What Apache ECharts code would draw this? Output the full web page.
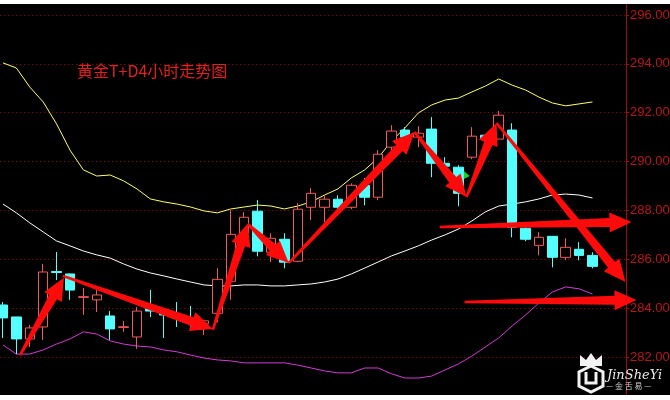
<!DOCTYPE html>
<html><head><meta charset="utf-8">
<script src="https://cdn.jsdelivr.net/npm/echarts@6/dist/echarts.min.js"></script>
<style>
html,body{margin:0;padding:0;background:#fff;width:670px;height:400px;overflow:hidden}
#chart{position:absolute;left:0;top:4px;width:670px;height:391px;background:#000}
</style>
</head><body><div id="chart"></div>
<script>
// ---- data ----
const categories = ['1','2','3','4','5','6','7','8','9','10','11','12','13','14','15','16','17','18','19','20',
  '21','22','23','24','25','26','27','28','29','30','31','32','33','34','35','36','37','38','39','40',
  '41','42','43','44','45','46','47'];
const opens  = [284.13,283.64,282.74,283.23,285.50,285.40,284.44,284.34,283.68,283.21,282.82,283.98,283.82,283.70,283.55,283.36,283.79,285.10,287.07,287.97,286.29,286.82,285.92,288.13,288.13,288.46,288.13,289.03,288.54,290.59,291.29,291.00,291.33,289.93,289.77,290.18,291.08,290.92,291.29,287.27,286.57,286.94,286.08,286.41,286.16];
const closes = [283.60,282.74,283.19,285.48,285.46,284.74,284.47,284.54,283.15,283.24,283.88,283.88,283.72,283.58,283.45,283.48,285.18,287.02,287.72,286.33,286.86,285.88,288.05,288.70,288.46,288.13,289.03,288.54,290.30,291.25,291.00,291.16,289.93,289.81,288.70,291.04,290.92,291.90,287.31,286.82,286.90,286.08,286.49,286.16,285.71];
const lows   = [282.78,282.12,282.41,282.70,285.15,284.34,283.72,283.84,282.70,283.03,282.33,283.64,282.78,283.23,283.19,282.90,283.42,284.34,286.90,286.12,285.88,285.63,285.88,287.60,287.52,288.00,288.05,288.21,288.42,290.39,290.88,290.59,289.36,289.55,288.17,290.10,290.92,290.92,286.90,286.74,286.16,285.67,285.96,285.96,285.63];
const highs  = [284.25,283.64,283.31,285.81,286.30,285.42,284.83,284.74,283.88,283.48,284.05,284.75,283.90,284.25,284.09,283.52,285.63,288.01,287.93,288.42,287.07,287.07,288.30,288.91,288.62,288.62,289.11,289.32,290.47,291.49,291.41,291.45,291.82,290.18,289.85,291.41,291.08,292.07,291.57,287.31,287.11,286.94,286.86,286.70,286.29];
const upperBand = [294.04,293.83,293.05,292.44,291.54,290.47,289.66,289.41,289.45,289.21,288.88,288.47,288.35,288.26,288.14,287.98,287.90,288.06,288.14,288.22,288.18,288.06,288.18,288.35,288.63,288.88,289.33,289.66,290.15,290.84,291.38,291.99,292.32,292.52,292.60,292.85,293.09,293.38,293.13,292.93,292.64,292.40,292.28,292.36,292.44];
const midBand   = [288.26,287.90,287.49,287.12,286.75,286.55,286.34,286.18,286.05,285.81,285.60,285.44,285.32,285.19,285.07,284.95,284.91,284.91,284.95,284.95,284.91,284.91,284.95,284.99,285.07,285.19,285.40,285.64,285.89,286.14,286.34,286.55,286.79,287.00,287.24,287.57,287.94,288.18,288.26,288.35,288.47,288.63,288.67,288.63,288.51];
const lowerBand = [282.49,282.12,282.12,282.29,282.53,282.74,283.03,282.94,282.66,282.53,282.45,282.41,282.29,282.21,282.08,281.96,281.88,281.84,281.76,281.76,281.76,281.76,281.67,281.55,281.43,281.35,281.35,281.55,281.55,281.31,281.14,281.14,281.22,281.47,281.72,282.04,282.41,282.78,283.27,283.72,284.21,284.66,284.87,284.79,284.58];
const yTickValues = [282,284,286,288,290,292,294,296];
const titleText = '黄金T+D4小时走势图';
// annotation arrows: [fromIndex, fromValue, toIndex, toValue]
const arrows = [
  [1.27,282.08, 4.55,285.24],
  [4.47,285.32, 15.66,283.15],
  [15.66,283.11, 18.27,287.45],
  [18.27,287.45, 21.33,285.85],
  [21.33,285.85, 30.72,291.21],
  [30.72,291.21, 34.60,288.55],
  [34.60,288.55, 36.84,291.58],
  [36.84,291.58, 46.46,285.07],
  [32.59,287.32, 46.91,287.53],
  [34.45,284.25, 47.28,284.33]
];
const greenMarker = [34.4, 289.45];

// ---- chart ----
const candleData = opens.map((o,i)=>[o, closes[i], lows[i], highs[i]]);
const chart = echarts.init(document.getElementById('chart'), null, {renderer:'canvas'});
const RED_AXIS = '#a80c0c';
chart.setOption({
  backgroundColor: '#000',
  animation: false,
  title: {
    text: titleText, left: 77, top: 59, padding: 0,
    textStyle: {color:'#e3201c', fontSize:16, fontWeight:'normal', fontFamily:'"Noto Sans CJK SC", sans-serif'}
  },
  grid: {left: -3.7, right: 44, top: -13.43, bottom: -10.86, containLabel:false, outerBoundsMode:'none'},
  xAxis: {
    type:'category', data: categories, boundaryGap:true,
    axisLine:{show:false}, axisTick:{show:false}, axisLabel:{show:false}, splitLine:{show:false}
  },
  yAxis: {
    type:'value', position:'right', min:280, max:297, interval:2, scale:true,
    axisLine:{show:true, lineStyle:{color:RED_AXIS, width:1}},
    axisTick:{show:true, length:3, lineStyle:{color:RED_AXIS}},
    axisLabel:{
      color:'#b8181a', fontSize:13, margin:4, fontFamily:'"Liberation Sans", Arial, sans-serif',
      showMinLabel:false, showMaxLabel:false,
      formatter: v => yTickValues.indexOf(v) >= 0 ? v.toFixed(2) : ''
    },
    splitLine:{show:true, lineStyle:{color:'#9a1414', type:[1,3], width:1}}
  },
  series: [
    {type:'line', data: upperBand, showSymbol:false, lineStyle:{color:'#ffff66', width:1}, z:2, silent:true},
    {type:'line', data: midBand, showSymbol:false, lineStyle:{color:'#ffffff', width:1}, z:2, silent:true},
    {type:'line', data: lowerBand, showSymbol:false, lineStyle:{color:'#d23cd2', width:1}, z:2, silent:true},
    {type:'candlestick', data: candleData, barWidth:10, z:3,
      itemStyle:{color:'#000', color0:'#54ffff', borderColor:'#f05a5a', borderColor0:'#54ffff', borderWidth:1}}
  ]
});

function px(idx, val){
  const x0 = chart.convertToPixel({xAxisIndex:0}, 0);
  const x1 = chart.convertToPixel({xAxisIndex:0}, 1);
  return [x0 + idx*(x1-x0), chart.convertToPixel({yAxisIndex:0}, val)];
}
function arrowPoly(p1, p2){
  const dx=p2[0]-p1[0], dy=p2[1]-p1[1], L=Math.hypot(dx,dy);
  const ux=dx/L, uy=dy/L, nx=-uy, ny=ux;
  const headLen=Math.min(22, L*0.4), headW=10, sEnd=4.5, sStart=1.2;
  const hx=p2[0]-ux*headLen, hy=p2[1]-uy*headLen;
  return [[p1[0]+nx*sStart,p1[1]+ny*sStart],[hx+nx*sEnd,hy+ny*sEnd],[hx+nx*headW,hy+ny*headW],
          [p2[0],p2[1]],[hx-nx*headW,hy-ny*headW],[hx-nx*sEnd,hy-ny*sEnd],[p1[0]-nx*sStart,p1[1]-ny*sStart]];
}
const graphics = arrows.map(a => ({
  type:'polygon', z:100, shape:{points: arrowPoly(px(a[0],a[1]), px(a[2],a[3]))},
  style:{fill:'#ff0a0a'}
}));
const gm = px(greenMarker[0], greenMarker[1]);
graphics.push({type:'polygon', z:101, shape:{points:[[gm[0],gm[1]-4],[gm[0]+6,gm[1]+1],[gm[0],gm[1]+4]]}, style:{fill:'#22cc22'}});
// watermark logo (decoration)
graphics.push({type:'polygon', z:110, shape:{points:[[580,362],[580,351],[586,356],[591,349],[596,356],[602,351],[602,362]]}, style:{fill:'#f2f2f2'}});
graphics.push({type:'polygon', z:110, shape:{points:[[591,362],[603,368],[603,382],[591,388],[579,382],[579,368]]}, style:{fill:'none', stroke:'#f2f2f2', lineWidth:3}});
graphics.push({type:'polyline', z:110, shape:{points:[[586,368],[586,379],[596,379],[596,368]]}, style:{stroke:'#f2f2f2', lineWidth:3, fill:'none'}});
graphics.push({type:'text', z:110, left:607, top:365, style:{text:'JinSheYi', fill:'#e8e8e8', font:'italic 13px "DejaVu Serif", serif'}});
graphics.push({type:'text', z:110, left:606, top:378, style:{text:'— 金 舌 易 —', fill:'#cfcfcf', font:'8px "Noto Sans CJK SC", sans-serif'}});
chart.setOption({graphic: graphics});
</script>
</body></html>
